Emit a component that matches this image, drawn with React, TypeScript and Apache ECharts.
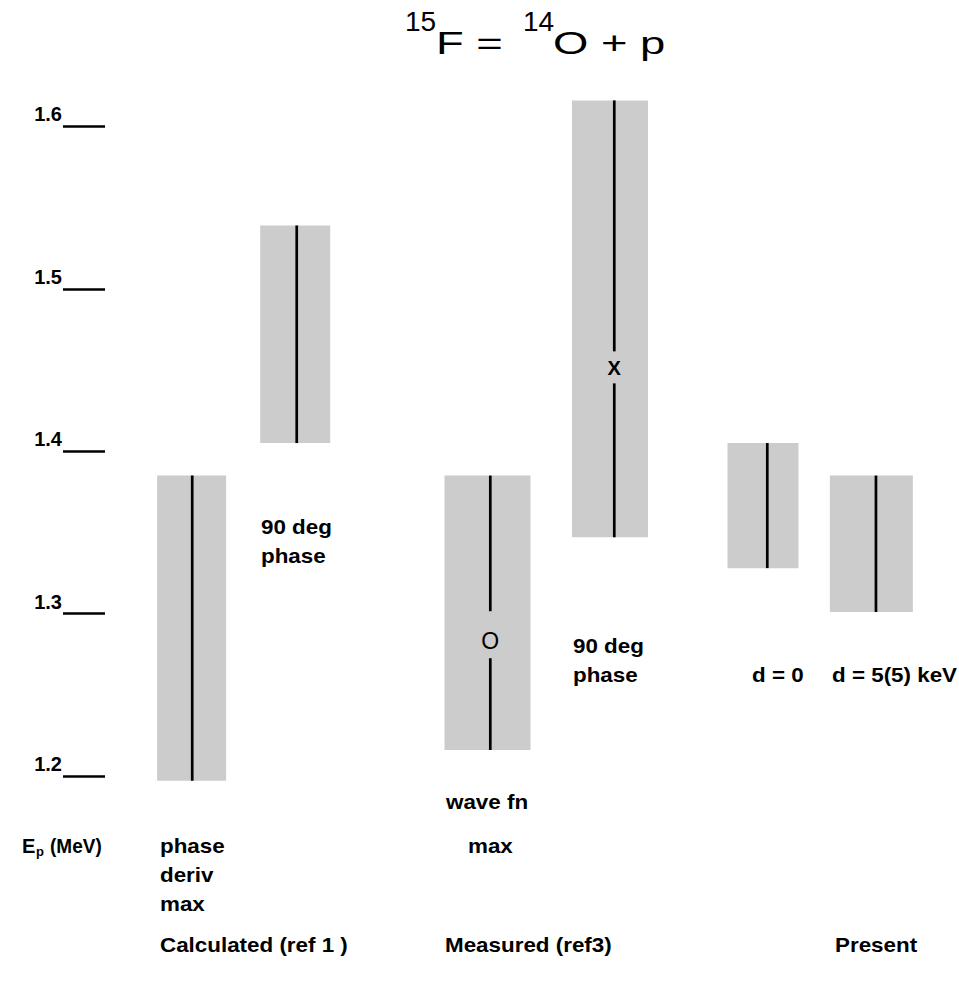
import React, { useEffect, useRef } from 'react';
import * as echarts from 'echarts';

// ---- data ----
const TICK_VALUES = [1.2, 1.3, 1.4, 1.5, 1.6];
const BAR_X = [1.019, 2.238, 4.5, 5.941, 7.741, 9.016];
const BAR_LOW = [1.197, 1.405, 1.216, 1.347, 1.328, 1.301];
const BAR_HIGH = [1.385, 1.539, 1.385, 1.616, 1.405, 1.385];
const MARKER_TEXT: (string | null)[] = [null, null, 'O', 'X', null, null];
const MARKER_VALUE: (number | null)[] = [null, null, 1.283, 1.451, null, null];

const BAR_NOTES = [
  ['90 deg', 'phase'],
  ['90 deg', 'phase'],
  ['d = 0'],
  ['d = 5(5) keV'],
  ['wave fn'],
  ['max'],
  ['phase', 'deriv', 'max'],
];
const GROUP_LABELS = ['Calculated (ref 1 )', 'Measured (ref3)', 'Present'];

// ---- styles / layout ----
const FONT = '"Liberation Sans", Arial, Helvetica, sans-serif';
const BAR_WIDTH_PX = [69, 70, 86, 76, 71, 83];
const LINE_OFFSET_PX = [0.6, 1.5, 2.8, 4.3, 4.3, 4.6];
const MARKER_GAP_PX: Record<number, [number, number]> = { 2: [30, 17], 3: [17, 15] };
const NOTE_POS: [number, number][] = [
  [261, 527],
  [573, 646],
  [752, 675],
  [832, 675],
  [446, 802],
  [468, 846],
  [160, 846],
];
const GROUP_POS: [number, number][] = [
  [160, 945],
  [445, 945],
  [835, 945],
];

export default function App() {
  const ref = useRef<HTMLDivElement>(null);
  useEffect(() => {
    if (!ref.current) return;
    const chart = echarts.init(ref.current, null, { renderer: 'svg' });
    const data = BAR_X.map((x, i) => [x, BAR_LOW[i], BAR_HIGH[i]]);

    const graphics: any[] = [];
    const textEl = (x: number, y: number, text: string, fontSize: number, bold = true, scaleX = 1) => ({
      type: 'text',
      x,
      y,
      scaleX,
      style: {
        text,
        fill: '#000',
        fontSize,
        fontWeight: bold ? 'bold' : 'normal',
        fontFamily: FONT,
        align: 'left',
        verticalAlign: 'middle',
      },
    });
    // title
    graphics.push(textEl(405, 21, '15', 28, false));
    graphics.push(textEl(436, 43, 'F = ', 32, false, 1.42));
    graphics.push(textEl(523, 21, '14', 28, false));
    graphics.push(textEl(553, 43, 'O + p', 32, false, 1.42));
    // notes
    BAR_NOTES.forEach((lines, k) => {
      const [x, y] = NOTE_POS[k];
      lines.forEach((t, j) => {
        graphics.push(textEl(x, y + j * 29, t, 20, true, 1.12));
      });
    });
    GROUP_LABELS.forEach((t, k) => {
      const [x, y] = GROUP_POS[k];
      graphics.push(textEl(x, y, t, 20, true, 1.12));
    });
    // axis name E_p (MeV)
    graphics.push(textEl(22, 846, 'E', 20, true));
    graphics.push(textEl(36, 851, 'p', 13, true));
    graphics.push(textEl(50, 846, '(MeV)', 20, true, 0.95));

    chart.setOption({
      animation: false,
      grid: { left: 105, top: 45.2, width: 850, height: 812 },
      xAxis: { type: 'value', min: 0, max: 10, show: false },
      yAxis: {
        type: 'value',
        min: 1.15,
        max: 1.65,
        axisLine: { show: false },
        splitLine: { show: false },
        axisTick: {
          show: true,
          customValues: TICK_VALUES,
          length: 42,
          lineStyle: { color: '#000', width: 2.5 },
        },
        axisLabel: {
          customValues: TICK_VALUES,
          formatter: (v: number) => v.toFixed(1),
          margin: 43,
          verticalAlign: 'bottom',
          padding: [0, 0, 2, 0],
          fontSize: 20,
          fontWeight: 'bold',
          color: '#000',
          fontFamily: FONT,
        },
      },
      series: [
        {
          type: 'custom',
          data,
          clip: false,
          renderItem: (params: any, api: any) => {
            const i = params.dataIndex;
            const x = api.value(0);
            const top = api.coord([x, api.value(2)]);
            const bot = api.coord([x, api.value(1)]);
            const w = BAR_WIDTH_PX[i];
            const lx = top[0] + LINE_OFFSET_PX[i];
            const lineStyle = { stroke: '#000', lineWidth: 2.7 };
            const children: any[] = [
              {
                type: 'rect',
                shape: { x: top[0] - w / 2, y: top[1], width: w, height: bot[1] - top[1] },
                style: { fill: '#cccccc' },
              },
            ];
            const mv = MARKER_VALUE[i];
            if (mv != null) {
              const m = api.coord([x, mv]);
              const [ga, gb] = MARKER_GAP_PX[i];
              children.push({ type: 'line', shape: { x1: lx, y1: top[1], x2: lx, y2: m[1] - ga }, style: lineStyle });
              children.push({ type: 'line', shape: { x1: lx, y1: m[1] + gb, x2: lx, y2: bot[1] }, style: lineStyle });
              const isX = MARKER_TEXT[i] === 'X';
              children.push({
                type: 'text',
                x: lx,
                y: m[1],
                style: {
                  text: MARKER_TEXT[i],
                  fill: '#000',
                  fontSize: isX ? 20 : 23,
                  fontWeight: isX ? 'bold' : 'normal',
                  fontFamily: FONT,
                  align: 'center',
                  verticalAlign: 'middle',
                },
              });
            } else {
              children.push({ type: 'line', shape: { x1: lx, y1: top[1], x2: lx, y2: bot[1] }, style: lineStyle });
            }
            return { type: 'group', children };
          },
        },
      ],
      graphic: graphics,
    });
    return () => chart.dispose();
  }, []);
  return (
    <div
      ref={ref}
      style={{ position: 'fixed', left: 0, top: 0, width: 959, height: 985, background: '#fff' }}
    />
  );
}
